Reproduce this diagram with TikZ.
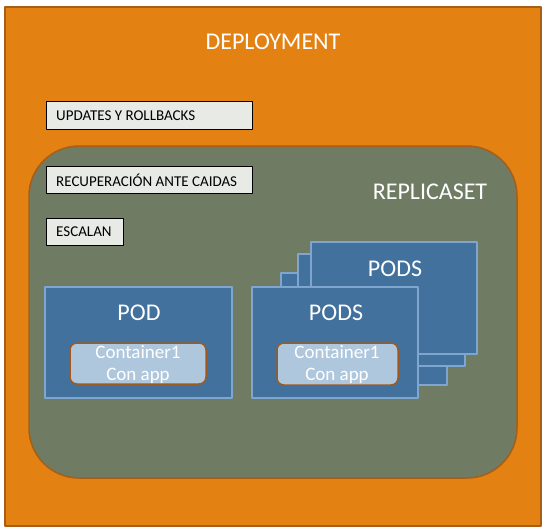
\documentclass[tikz,border=0pt]{standalone}
\usepackage{fontspec}
\setmainfont{Carlito}
\usetikzlibrary{positioning}
\definecolor{deploy}{RGB}{227,130,18}
\definecolor{deployline}{RGB}{166,94,24}
\definecolor{replica}{RGB}{111,123,98}
\definecolor{tagfill}{RGB}{232,234,230}
\definecolor{podfill}{RGB}{65,113,156}
\definecolor{podline}{RGB}{126,166,206}
\definecolor{contfill}{RGB}{175,199,220}
\definecolor{contline}{RGB}{160,90,30}

\tikzset{
  title/.style={font=\fontsize{24}{28}\selectfont, text=white, inner sep=0pt},
  tag/.style={fill=tagfill, draw=black, line width=1pt},
  tagtext/.style={anchor=west, font=\fontsize{15}{18}\selectfont, inner sep=0pt},
  podbox/.style={fill=podfill, draw=podline, line width=1.5pt},
  contbox/.style={fill=contfill, draw=contline, line width=1.5pt, rounded corners=7pt},
  conttext/.style={align=center, text=white, font=\fontsize{19}{22}\selectfont, inner sep=0pt}
}

\begin{document}
\begin{tikzpicture}[x=1pt, y=-1pt, line join=round]
                \useasboundingbox (0,0) rectangle (546,530);

                % deployment
                \filldraw [fill=deploy, draw=deployline, line width=2pt] (5,7) rectangle (541,526);
                \node[title] (deployment) at (273,42) {DEPLOYMENT};
                \filldraw [tag] (46,101) rectangle (252,129);
                \node[tagtext] (updates) at (56,115.5) {UPDATES Y ROLLBACKS};

                % replicaset
                \filldraw [fill=replica, draw=deployline, line width=1.5pt, rounded corners=50pt] (29,146) rectangle (517,478);
                \node[title] (replicaset) at (430,192) {REPLICASET};
                \filldraw [tag] (46,166) rectangle (252,193);
                \node[tagtext] (recuperacion) at (56,180) {RECUPERACIÓN ANTE CAIDAS};
                \filldraw [tag] (46,218) rectangle (123,245);
                \node[tagtext] (escalan) at (56,232) {ESCALAN};

                % pod
                \filldraw [podbox] (45,287) rectangle (232,398);
                \node[title] (pod) at (139,313) {POD};
                \filldraw [contbox] (70,343) rectangle (206,384);
                \node[conttext] (cont1) at (138,364) {Container1\\Con app};

                % pods stack
                \filldraw [podbox] (281,273) rectangle (447,385);
                \filldraw [podbox] (298,254) rectangle (465,366);
                \filldraw [podbox] (311,242) rectangle (477,354);
                \node[title] (podsback) at (395,269) {PODS};
                \filldraw [podbox] (252,287) rectangle (418,398);
                \node[title] (pods) at (336,313) {PODS};
                \filldraw [contbox] (277,343) rectangle (398,385);
                \node[conttext] (cont2) at (337,364) {Container1\\Con app};
\end{tikzpicture}
\end{document}
